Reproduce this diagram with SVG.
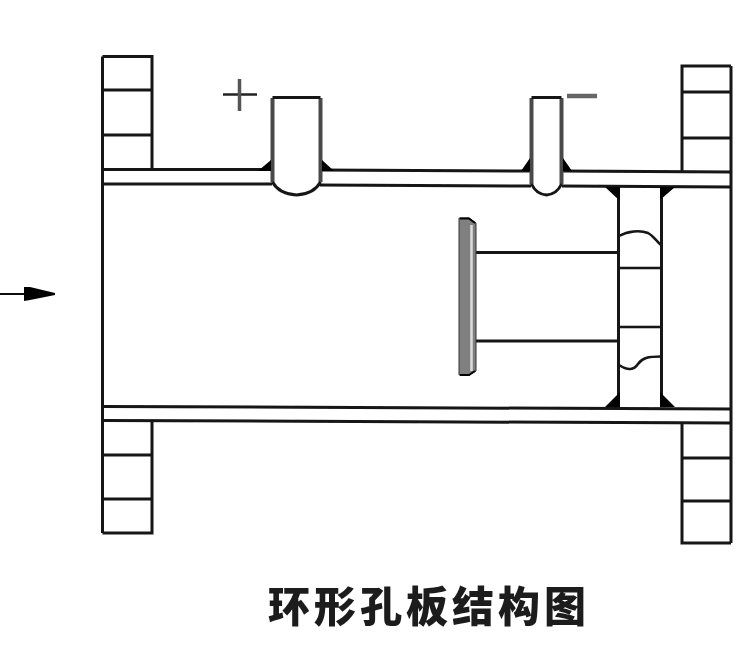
<svg xmlns="http://www.w3.org/2000/svg" width="750" height="655" viewBox="0 0 750 655">
<defs><filter id="b" x="-5%" y="-5%" width="110%" height="110%" filterUnits="userSpaceOnUse" primitiveUnits="userSpaceOnUse"><feGaussianBlur stdDeviation="0.45"/></filter></defs>
<style>
svg>g{filter:url(#b)}
.l{fill:none;stroke:#141414;stroke-width:3}
.t{stroke-width:2.5}
.f{fill:#000;stroke:none}
.g{stroke:#4a4a4a;stroke-width:4}
text{font-family:"Noto Sans CJK SC","Noto Sans CJK JP",sans-serif;font-weight:900;font-size:42px;fill:#1a1a1a}
</style>
<rect width="750" height="655" fill="#fff"/>
<g id="connectors">
<path class="l" d="M102.5 169.5H272M320 170L531 171M562 171L731 172M102.5 184H272M320 185L531 186M562 186L731 187"/>
<path class="l" d="M102.5 406.5L731 409M102.5 420.5L731 423"/>
<path class="l" d="M102.5 56.5V533M731 66V543"/>
<path class="l" d="M476 252.500H618M476 341H618"/>
<path d="M0 294H26" stroke="#111" stroke-width="2" fill="none"/>
<path class="f" d="M24 287L30 287L55 293L55 295L30 300L24 301Z"/>
</g>
<g id="flange-top-left"><path class="l" d="M102.500 56.500H152V170M102.500 90H152M102.500 135H152"/></g>
<g id="flange-bottom-left"><path class="l" d="M102.500 533H152V420.500M102.500 455H152M102.500 499H152"/></g>
<g id="flange-top-right"><path class="l" d="M682 172V66H731M682 92H731M682 138H731"/></g>
<g id="flange-bottom-right"><path class="l" d="M682 423V543H731M682 458H731M682 501H731"/></g>
<g id="tap-plus">
<path class="l g" d="M272.500 98V182M320.500 98V182"/>
<path class="l" d="M272.500 97.500H320.500M272.500 182Q279 194 296.500 195Q314 194 320.500 182"/>
<path class="f" d="M271 160V171H258ZM322 160V171H334Z"/>
<path d="M223 94.500H257" stroke="#222" stroke-width="2.500" fill="none"/>
<path d="M239.500 79V111" stroke="#555" stroke-width="3.500" fill="none"/>
</g>
<g id="tap-minus">
<path class="l g" d="M531.500 98V184M561.500 98V184"/>
<path class="l" d="M531.500 97.500H561.500M531.500 184Q536 194 546.500 195Q557 194 561.500 184"/>
<path class="f" d="M530 158V171H521ZM563 158V171H572Z"/>
<path d="M567 96H597" stroke="#666" stroke-width="4.500" fill="none"/>
</g>
<g id="orifice-plate">
<path d="M459 218L469 218L476 223V371L469 375L459 375Z" fill="#808080" stroke="#333" stroke-width="1"/>
<path d="M471.500 225V371" stroke="#ddd" stroke-width="2.500" fill="none"/>
<path d="M460 218.500L469 218.500L475 223M460 375L469 375L475 371" stroke="#000" stroke-width="2" fill="none"/>
</g>
<g id="ring">
<path class="l" d="M618.500 186V407M661.500 187V407"/>
<path class="f" d="M605 187H620V201ZM660 187H675L660 200ZM605 407L620 392V407ZM660 392L675 407H660Z"/>
<path class="l t" d="M619 236C628 231 640 230 648 233C654 236 656 241 661 245M619 268H661M619 327H661M619 365C628 371 634 370 638 364C642 358 648 356.500 661 356.500"/>
</g>
<g id="title"><text x="268" y="622" textLength="318" lengthAdjust="spacing">环形孔板结构图</text></g>
</svg>
